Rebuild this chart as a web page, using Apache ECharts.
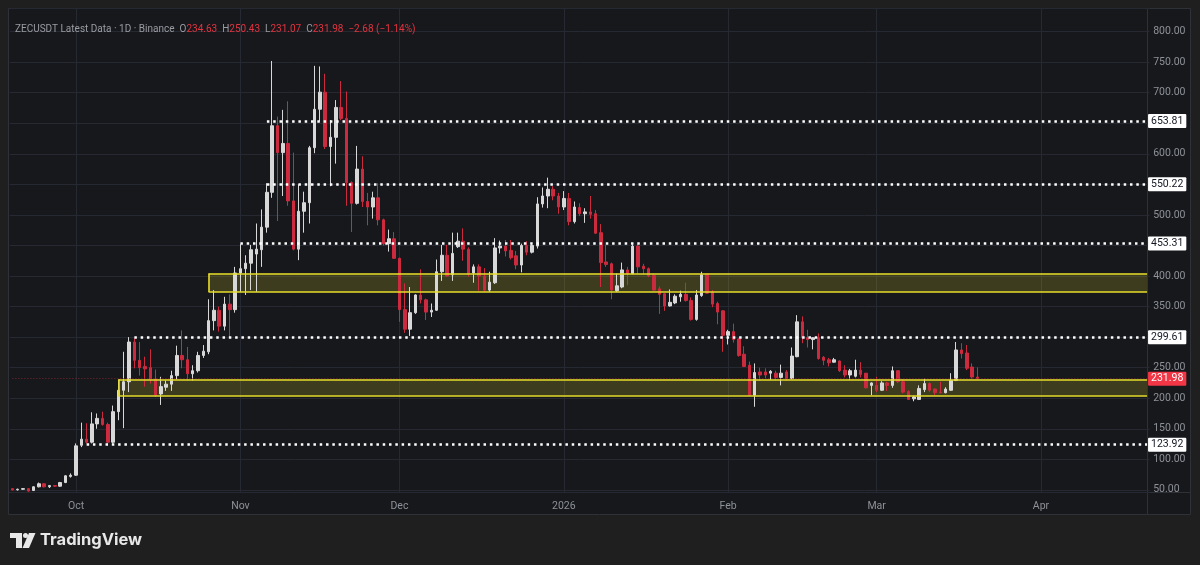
<!DOCTYPE html>
<html>
<head>
<meta charset="utf-8">
<script src="https://cdn.jsdelivr.net/npm/echarts@6/dist/echarts.min.js"></script>
<style>
  html, body { margin: 0; padding: 0; background: #1f1f1f; }
  #main { width: 1200px; height: 565px; }
</style>
</head>
<body>
<div id="main"></div>
<script>
// ZEC/USDT daily candles, 2025-09-19 .. 2026-03-20
const firstDay = [2025, 8, 19];
const axisDays = 215; // time axis runs on into april with no candles

const opens = [
  52, 50, 51, 52, 49, 55, 60, 55, 57, 56, 62, 72,
  74, 123, 133, 128, 158, 167, 157, 128, 178, 213, 227, 292, 262, 252, 250, 231, 207, 218, 223, 237, 270, 263, 240, 245, 270, 276, 327, 344, 318, 354, 345,
  405, 412, 421, 436, 443, 480, 537, 646, 602, 617, 523, 444, 506, 520, 610, 673, 701, 612, 627, 676, 658, 553, 519, 575, 522, 513, 528, 492, 453, 461,
  429, 345, 313, 340, 369, 361, 341, 344, 407, 434, 402, 448, 457, 444, 405, 415, 400, 377, 389, 446, 449, 442, 433, 418, 450, 439, 449, 518, 531, 542, 531,
  513, 527, 489, 512, 502, 505, 502, 471, 423, 420, 376, 382, 410, 404, 449, 416, 412, 401, 379, 371, 351, 356, 366, 370, 360, 329, 368, 402, 374, 355, 343,
  303, 309, 297, 272, 254, 205, 243, 243, 241, 241, 234, 243, 232, 268, 325, 299, 296, 299, 267, 263, 259, 261, 246, 238, 236, 246, 241, 221,
  221, 213, 225, 221, 245, 227, 211, 199, 198, 214, 224, 215, 210, 209, 213, 229, 279, 274, 251, 234.63
];
const highs = [
  53, 52, 53, 53, 56, 62, 61, 58, 58, 63, 74, 77,
  126, 160, 159, 177, 175, 178, 160, 188, 230, 276, 300, 298, 292, 268, 280, 247, 235, 229, 245, 286, 311, 284, 254, 276, 287, 362, 377, 350, 366, 370, 415,
  452, 434, 451, 486, 509, 552, 752, 661, 672, 686, 602, 550, 538, 613, 744, 743, 731, 655, 688, 719, 702, 555, 613, 596, 536, 538, 552, 494, 476, 472,
  430, 388, 382, 370, 411, 363, 355, 427, 451, 451, 471, 471, 478, 447, 419, 419, 413, 407, 462, 458, 459, 459, 441, 453, 457, 452, 529, 545, 561, 547, 536,
  539, 536, 522, 519, 511, 531, 508, 485, 451, 422, 404, 422, 415, 452, 452, 420, 414, 404, 383, 372, 378, 370, 376, 389, 365, 377, 407, 404, 377, 358, 344,
  312, 322, 298, 285, 260, 257, 250, 249, 246, 245, 255, 246, 283, 336, 334, 312, 300, 306, 269, 266, 266, 262, 254, 248, 263, 259, 241, 226,
  235, 228, 227, 252, 246, 231, 213, 204, 221, 232, 226, 216, 227, 218, 241, 292, 290, 287, 257, 250.43
];
const lows = [
  49, 49, 50, 47, 48, 54, 54, 53, 55, 55, 61, 70,
  73, 120, 126, 126, 150, 155, 122, 126, 164, 151, 210, 249, 237, 219, 224, 202, 189, 212, 212, 231, 249, 228, 229, 242, 266, 272, 311, 309, 311, 300, 340,
  374, 369, 377, 374, 415, 471, 528, 490, 531, 515, 442, 426, 471, 486, 601, 653, 608, 547, 584, 655, 515, 472, 517, 513, 483, 494, 483, 450, 440, 428,
  325, 307, 302, 338, 355, 328, 333, 343, 392, 399, 392, 446, 425, 399, 389, 376, 374, 374, 387, 437, 432, 427, 411, 406, 434, 437, 445, 512, 511, 524, 502,
  508, 483, 486, 498, 487, 494, 469, 382, 415, 362, 374, 380, 385, 403, 404, 402, 398, 376, 338, 343, 350, 354, 358, 358, 327, 327, 366, 371, 349, 321, 276,
  288, 291, 268, 251, 204, 186, 228, 233, 230, 229, 221, 229, 231, 267, 290, 283, 280, 263, 254, 252, 258, 243, 234, 230, 234, 234, 216, 205,
  210, 212, 212, 217, 225, 208, 197, 195, 197, 210, 210, 205, 208, 208, 212, 228, 265, 246, 232, 231.07
];
const closes = [
  50, 51, 52, 48, 55, 60, 55, 57, 56, 62, 73, 74,
  122, 133, 128, 158, 167, 157, 128, 178, 213, 227, 292, 262, 250, 248, 231, 205, 219, 223, 237, 270, 263, 240, 245, 270, 277, 327, 344, 318, 354, 345, 405,
  412, 421, 443, 444, 480, 537, 646, 602, 617, 523, 444, 506, 520, 610, 673, 701, 612, 627, 676, 658, 553, 519, 575, 522, 513, 528, 492, 453, 461, 429,
  345, 313, 340, 369, 361, 341, 344, 407, 434, 400, 437, 457, 444, 404, 415, 400, 377, 390, 446, 449, 441, 430, 418, 450, 439, 450, 518, 531, 542, 531, 513,
  527, 489, 513, 502, 505, 501, 470, 422, 419, 377, 384, 410, 404, 449, 415, 412, 400, 377, 370, 351, 357, 367, 370, 360, 329, 369, 402, 372, 354, 341, 303,
  309, 296, 270, 252, 205, 242, 238, 238, 244, 234, 241, 232, 269, 325, 299, 296, 299, 265, 262, 258, 263, 245, 238, 245, 246, 239, 217, 225,
  213, 225, 221, 245, 227, 210, 198, 202, 216, 224, 213, 209, 209, 215, 229, 279, 273, 249, 234.66, 231.98
];

// drawn levels and zones
const levels = [653.81, 550.22, 453.31, 299.61, 123.92];
const levelStarts = ['2025-11-06', '2025-11-06', '2025-11-01', '2025-10-12', '2025-10-03'];
const zoneLows = [204, 374];
const zoneHighs = [231, 404];
const zoneStarts = ['2025-10-09', '2025-10-26'];

// axis labels
const priceTicks = [50, 100, 150, 200, 250, 300, 350, 400, 450, 500, 550, 600, 650, 700, 750, 800];
const monthStarts = ['2025-10-01', '2025-11-01', '2025-12-01', '2026-01-01', '2026-02-01', '2026-03-01', '2026-04-01'];
const monthLabels = ['Oct', 'Nov', 'Dec', '2026', 'Feb', 'Mar', 'Apr'];

const dates = [];
for (let i = 0; i < axisDays; i++) {
  dates.push(new Date(Date.UTC(firstDay[0], firstDay[1], firstDay[2] + i)).toISOString().slice(0, 10));
}
const candles = opens.map((o, i) => [o, closes[i], lows[i], highs[i]]);
const lastDate = dates[dates.length - 1];
const last = opens.length - 1;
const lastPrice = closes[last];

const RED = '#cc2a3e';
const WHITE = '#d8d8d8';
const YELLOW = '#e6dc2a';
const font = 'Roboto, "Noto Sans", sans-serif';
const isMonthStart = (i, v) => monthStarts.indexOf(v) >= 0;

const levelLines = levels.map((lv, i) => [
  {
    xAxis: levelStarts[i], yAxis: lv,
    lineStyle: { color: '#ffffff', type: [2.5, 3.8], width: 2.5 },
    label: {
      show: true, position: 'end', distance: 1, formatter: lv.toFixed(2),
      backgroundColor: '#ffffff', color: '#131722', padding: [2, 3, 1, 3],
      fontSize: 10.5, fontFamily: font, borderRadius: 1
    }
  },
  { xAxis: lastDate, yAxis: lv }
]);

const zoneBorder = { color: YELLOW, type: 'solid', width: 1.6 };
const zoneLines = [];
zoneLows.forEach((lo, i) => {
  const hi = zoneHighs[i];
  zoneLines.push([{ xAxis: zoneStarts[i], yAxis: lo, lineStyle: zoneBorder, label: { show: false } }, { xAxis: lastDate, yAxis: lo }]);
  zoneLines.push([{ xAxis: zoneStarts[i], yAxis: hi, lineStyle: zoneBorder, label: { show: false } }, { xAxis: lastDate, yAxis: hi }]);
  zoneLines.push([{ xAxis: zoneStarts[i], yAxis: lo, lineStyle: zoneBorder, label: { show: false } }, { xAxis: zoneStarts[i], yAxis: hi }]);
});

const priceLine = [
  {
    xAxis: dates[0], yAxis: lastPrice,
    lineStyle: { color: '#7e2530', type: [1, 2], width: 1 },
    label: {
      show: true, position: 'end', distance: 1, formatter: lastPrice.toFixed(2),
      backgroundColor: '#f23645', color: '#ffffff', padding: [2, 3, 1, 3],
      fontSize: 10.5, fontFamily: font, borderRadius: 1
    }
  },
  { xAxis: lastDate, yAxis: lastPrice }
];

// change is measured against the previous close
const chg = lastPrice - closes[last - 1];
const fmtSigned = v => v.toFixed(2).replace('-', '−');
const header =
  '{g|ZECUSDT Latest Data · 1D · Binance} ' +
  '{g|O}{r|' + opens[last].toFixed(2) + '} {g|H}{r|' + highs[last].toFixed(2) +
  '} {g|L}{r|' + lows[last].toFixed(2) + '} {g|C}{r|' + lastPrice.toFixed(2) +
  '} {r|' + fmtSigned(chg) + ' (' + fmtSigned(chg / closes[last - 1] * 100) + '%)}';

const chart = echarts.init(document.getElementById('main'), null, { renderer: 'canvas' });
chart.setOption({
  backgroundColor: '#17181c',
  animation: false,
  title: {
    left: 10, top: 15,
    text: header,
    textStyle: {
      fontWeight: 'normal',
      rich: {
        g: { color: '#9a9ca3', fontSize: 10, fontFamily: font, fontWeight: 'normal' },
        r: { color: '#e2333f', fontSize: 10, fontFamily: font, fontWeight: 'normal' }
      }
    }
  },
  grid: { left: 9.75, right: 50.3, top: 8, bottom: 73 },
  xAxis: {
    type: 'category',
    data: dates,
    boundaryGap: true,
    axisLine: { show: false },
    axisTick: { show: false },
    axisLabel: {
      interval: isMonthStart,
      formatter: v => monthLabels[monthStarts.indexOf(v)],
      color: '#8e9199', fontSize: 10.5, fontFamily: font, margin: 9
    },
    splitLine: {
      show: true, interval: isMonthStart, alignWithLabel: true,
      lineStyle: { color: '#262931', width: 1 }
    }
  },
  yAxis: {
    type: 'value',
    position: 'right',
    min: 46.5, max: 838.7,
    minInterval: 50, maxInterval: 50,
    scale: true,
    axisLine: { show: false },
    axisTick: { show: false },
    axisLabel: {
      showMinLabel: false, showMaxLabel: false,
      formatter: v => (priceTicks.indexOf(v) >= 0 ? v.toFixed(2) : ''),
      color: '#8e9199', fontSize: 10.5, fontFamily: font, margin: 3.5
    },
    splitLine: { lineStyle: { color: '#262931', width: 1 } }
  },
  graphic: [
    // page margins around the panel
    { type: 'rect', shape: { x: 0, y: 0, width: 1200, height: 8 }, style: { fill: '#1f1f1f' } },
    { type: 'rect', shape: { x: 0, y: 0, width: 8, height: 565 }, style: { fill: '#1f1f1f' } },
    { type: 'rect', shape: { x: 1191, y: 0, width: 9, height: 565 }, style: { fill: '#1f1f1f' } },
    { type: 'rect', shape: { x: 0, y: 515, width: 1200, height: 50 }, style: { fill: '#1f1f1f' } },
    // panel frame and axis separators
    { type: 'rect', shape: { x: 8.5, y: 8.5, width: 1182, height: 506 }, style: { fill: null, stroke: '#2e3138', lineWidth: 1 } },
    { type: 'line', shape: { x1: 8, y1: 492.5, x2: 1191, y2: 492.5 }, style: { stroke: '#2e3138', lineWidth: 1 } },
    { type: 'line', shape: { x1: 1147.5, y1: 8, x2: 1147.5, y2: 515 }, style: { stroke: '#2e3138', lineWidth: 1 } },
    // TradingView logo
    { type: 'rect', shape: { x: 10, y: 533, width: 12, height: 5 }, style: { fill: '#e8e8e8' } },
    { type: 'rect', shape: { x: 16, y: 533, width: 6, height: 15 }, style: { fill: '#e8e8e8' } },
    { type: 'circle', shape: { cx: 25.5, cy: 535.5, r: 2.5 }, style: { fill: '#e8e8e8' } },
    { type: 'polygon', shape: { points: [[29, 533], [35.5, 533], [29, 548], [22.5, 548]] }, style: { fill: '#e8e8e8' } },
    {
      type: 'text', x: 40, y: 540,
      style: { text: 'TradingView', fill: '#e8e8e8', font: 'bold 16.5px Inter, Roboto, sans-serif', textVerticalAlign: 'middle' }
    }
  ],
  series: [{
    type: 'candlestick',
    data: candles,
    barWidth: 3,
    itemStyle: {
      color: WHITE, color0: RED,
      borderColor: WHITE, borderColor0: RED,
      borderWidth: 1
    },
    markArea: {
      silent: true,
      itemStyle: { color: 'rgba(200, 190, 40, 0.22)' },
      data: zoneLows.map((lo, i) => [
        { xAxis: zoneStarts[i], yAxis: lo },
        { xAxis: lastDate, yAxis: zoneHighs[i] }
      ])
    },
    markLine: {
      silent: true,
      symbol: ['none', 'none'],
      data: zoneLines.concat(levelLines).concat([priceLine])
    }
  }]
});
</script>
</body>
</html>
